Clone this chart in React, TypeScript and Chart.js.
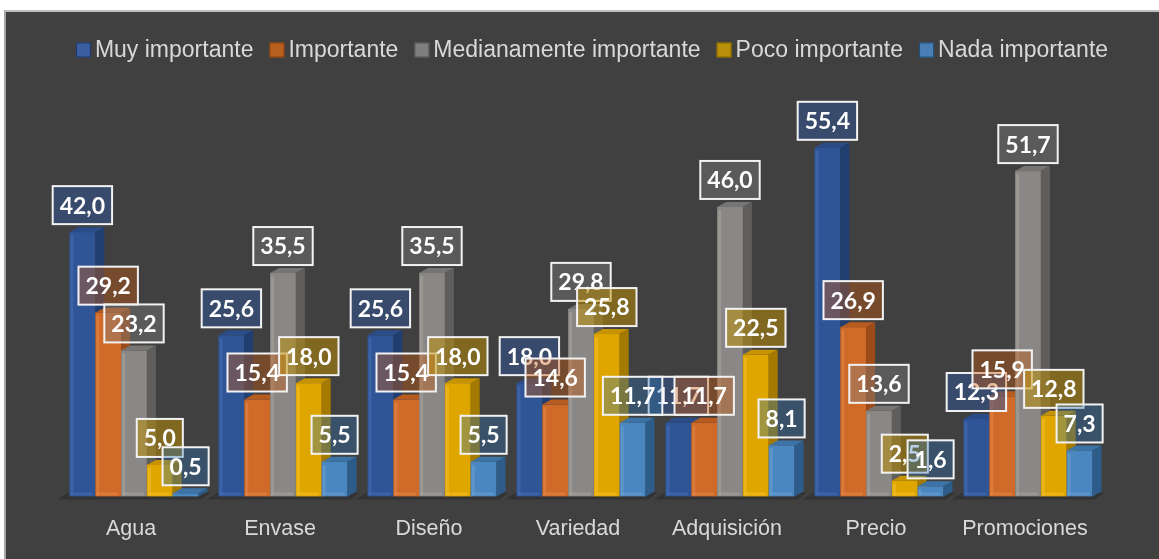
import React, { useEffect, useRef } from 'react';
import { Chart, registerables } from 'chart.js';

Chart.register(...registerables);

const categories = ['Agua', 'Envase', 'Diseño', 'Variedad', 'Adquisición', 'Precio', 'Promociones'];
const seriesNames = ['Muy importante', 'Importante', 'Medianamente importante', 'Poco importante', 'Nada importante'];

const muyImportante = [42.0, 25.6, 25.6, 18.0, 11.7, 55.4, 12.3];
const importante = [29.2, 15.4, 15.4, 14.6, 11.7, 26.9, 15.9];
const medianamente = [23.2, 35.5, 35.5, 29.8, 46.0, 13.6, 51.7];
const poco = [5.0, 18.0, 18.0, 25.8, 22.5, 2.5, 12.8];
const nada = [0.5, 5.5, 5.5, 11.7, 8.1, 1.6, 7.3];

const seriesValues = [muyImportante, importante, medianamente, poco, nada];

const frontColors = ['#2F5597', '#CF6A28', '#8A8886', '#E0A600', '#4A86BF'];
const sideColors = ['#213E70', '#9C4C19', '#5F5E5D', '#A47A00', '#2D5C8B'];
const topColors = ['#2A4C88', '#B85B1F', '#777573', '#C79300', '#3C74A8'];
const highlightColors = ['#4670B6', '#E3884A', '#AAA6A1', '#F3C030', '#6DA2D4'];
const legendColors = ['#3A5E9F', '#B8601F', '#7F7F7F', '#B8900A', '#4A7FB5'];
const legendBorders = ['#1F3864', '#843C0C', '#4F4F4F', '#7F6000', '#1F4E79'];
const labelFills = [
  'rgba(47,85,151,0.5)',
  'rgba(197,90,17,0.4)',
  'rgba(130,130,130,0.4)',
  'rgba(191,144,0,0.5)',
  'rgba(46,117,182,0.35)',
];

const DX = 9;
const DY = 5;

const fmt = (v: number) => v.toFixed(1).replace('.', ',');

const bars3d = {
  id: 'bars3d',
  beforeDatasetsDraw(chart: any) {
    const ctx = chart.ctx;
    const first = chart.getDatasetMeta(0);
    const last = chart.getDatasetMeta(seriesValues.length - 1);
    ctx.save();
    // floor shadow under each group
    ctx.fillStyle = 'rgba(0,0,0,0.2)';
    first.data.forEach((b0: any, i: number) => {
      const bN = last.data[i];
      const l = b0.x - b0.width / 2;
      const r = bN.x + bN.width / 2;
      const base = b0.base;
      ctx.beginPath();
      ctx.moveTo(l - 12, base + 3);
      ctx.lineTo(r + 3, base + 3);
      ctx.lineTo(r + DX + 3, base - DY + 1);
      ctx.lineTo(l + DX - 10, base - DY + 1);
      ctx.closePath();
      ctx.fill();
    });
    // bars, drawn left series first so the next series covers its side face
    seriesValues.forEach((_, i) => {
      const meta = chart.getDatasetMeta(i);
      meta.data.forEach((bar: any) => {
        const { x, y, base, width } = bar.getProps(['x', 'y', 'base', 'width'], true);
        const l = x - width / 2;
        const r = x + width / 2;
        const h = base - y;
        ctx.fillStyle = frontColors[i];
        ctx.fillRect(l, y, width, h);
        ctx.fillStyle = topColors[i];
        ctx.beginPath();
        ctx.moveTo(l, y);
        ctx.lineTo(l + DX, y - DY);
        ctx.lineTo(r + DX, y - DY);
        ctx.lineTo(r, y);
        ctx.closePath();
        ctx.fill();
        ctx.fillStyle = sideColors[i];
        ctx.beginPath();
        ctx.moveTo(r, y);
        ctx.lineTo(r + DX, y - DY);
        ctx.lineTo(r + DX, base - DY);
        ctx.lineTo(r, base);
        ctx.closePath();
        ctx.fill();
        if (h > 6) {
          ctx.fillStyle = highlightColors[i];
          ctx.globalAlpha = 0.55;
          ctx.fillRect(l + 1, y + 3, 3, h - 4);
          ctx.fillRect(l + 1, base - 4, width - 4, 3);
          ctx.globalAlpha = 1;
        }
      });
    });
    ctx.restore();
  },
  afterDatasetsDraw(chart: any) {
    const ctx = chart.ctx;
    ctx.save();
    ctx.font = '700 23px Lato, "Open Sans", sans-serif';
    ctx.textAlign = 'center';
    ctx.textBaseline = 'middle';
    seriesValues.forEach((vals, i) => {
      const meta = chart.getDatasetMeta(i);
      meta.data.forEach((bar: any, j: number) => {
        const text = fmt(vals[j]);
        const tw = ctx.measureText(text).width;
        const w = tw + 14;
        const h = 38;
        const bottom = bar.y - 8;
        const left = bar.x - w / 2;
        ctx.fillStyle = labelFills[i];
        ctx.fillRect(left, bottom - h, w, h);
        ctx.lineWidth = 2;
        ctx.strokeStyle = '#F2F2F2';
        ctx.strokeRect(left, bottom - h, w, h);
        ctx.fillStyle = '#FFFFFF';
        ctx.fillText(text, bar.x, bottom - h / 2 + 1);
      });
    });
    ctx.restore();
  },
  afterDraw(chart: any) {
    const ctx = chart.ctx;
    ctx.save();
    ctx.font = '23px "Liberation Sans", Arial, sans-serif';
    ctx.textBaseline = 'middle';
    ctx.textAlign = 'left';
    const box = 15;
    const gap = 4;
    const itemGap = 16;
    const widths = seriesNames.map((n) => ctx.measureText(n).width);
    const total = widths.reduce((a, w) => a + box + gap + w, 0) + itemGap * (seriesNames.length - 1);
    let x = 586 - total / 2;
    const cy = 38;
    seriesNames.forEach((n, i) => {
      ctx.fillStyle = legendColors[i];
      ctx.fillRect(x, cy - 7.5, box, box);
      ctx.strokeStyle = legendBorders[i];
      ctx.lineWidth = 1;
      ctx.strokeRect(x + 0.5, cy - 7, box - 1, box - 1);
      ctx.fillStyle = '#D9D9D9';
      ctx.fillText(n, x + box + gap, cy + 1);
      x += box + gap + widths[i] + itemGap;
    });
    ctx.restore();
  },
};

export default function App() {
  const ref = useRef<HTMLCanvasElement>(null);
  useEffect(() => {
    let chart: Chart | null = null;
    let cancelled = false;
    const make = () => {
      if (cancelled || !ref.current) return;
      chart = new Chart(ref.current, {
        type: 'bar',
        data: {
          labels: categories,
          datasets: seriesValues.map((vals, i) => ({
            label: seriesNames[i],
            data: vals,
            backgroundColor: 'rgba(0,0,0,0)',
            borderWidth: 0,
            barPercentage: 1,
            categoryPercentage: 0.866,
          })),
        },
        options: {
          responsive: false,
          animation: false,
          layout: { padding: { left: 53.5, right: 56.5, top: 81.7, bottom: -3.2 } },
          plugins: { legend: { display: false }, tooltip: { enabled: false } },
          scales: {
            x: {
              grid: { display: false, drawTicks: false },
              border: { display: false },
              ticks: {
                color: '#D9D9D9',
                font: { family: '"Liberation Sans", Arial, sans-serif', size: 21.5 },
                padding: 20,
                labelOffset: -3,
                maxRotation: 0,
                autoSkip: false,
              },
            },
            y: { display: false, min: 0, max: 64 },
          },
        },
        plugins: [bars3d],
      } as any);
    };
    const fonts = (document as any).fonts;
    if (fonts && fonts.load) {
      Promise.all([fonts.load('700 23px Lato'), fonts.load('21px "Liberation Sans"')]).then(make, make);
    } else {
      make();
    }
    return () => {
      cancelled = true;
      if (chart) chart.destroy();
    };
  }, []);
  return (
    <div style={{ position: 'fixed', left: 0, top: 0, width: 1159, height: 559, background: '#FFFFFF', overflow: 'hidden' }}>
      <div
        style={{
          position: 'absolute',
          left: 4,
          top: 10,
          width: 1155,
          height: 549,
          background: '#404040',
          borderLeft: '2px solid #A6A6A6',
          borderTop: '2px solid #BFBFBF',
          boxSizing: 'border-box',
        }}
      >
        <canvas ref={ref} width={1153} height={547} style={{ display: 'block', width: 1153, height: 547 }} />
      </div>
    </div>
  );
}
